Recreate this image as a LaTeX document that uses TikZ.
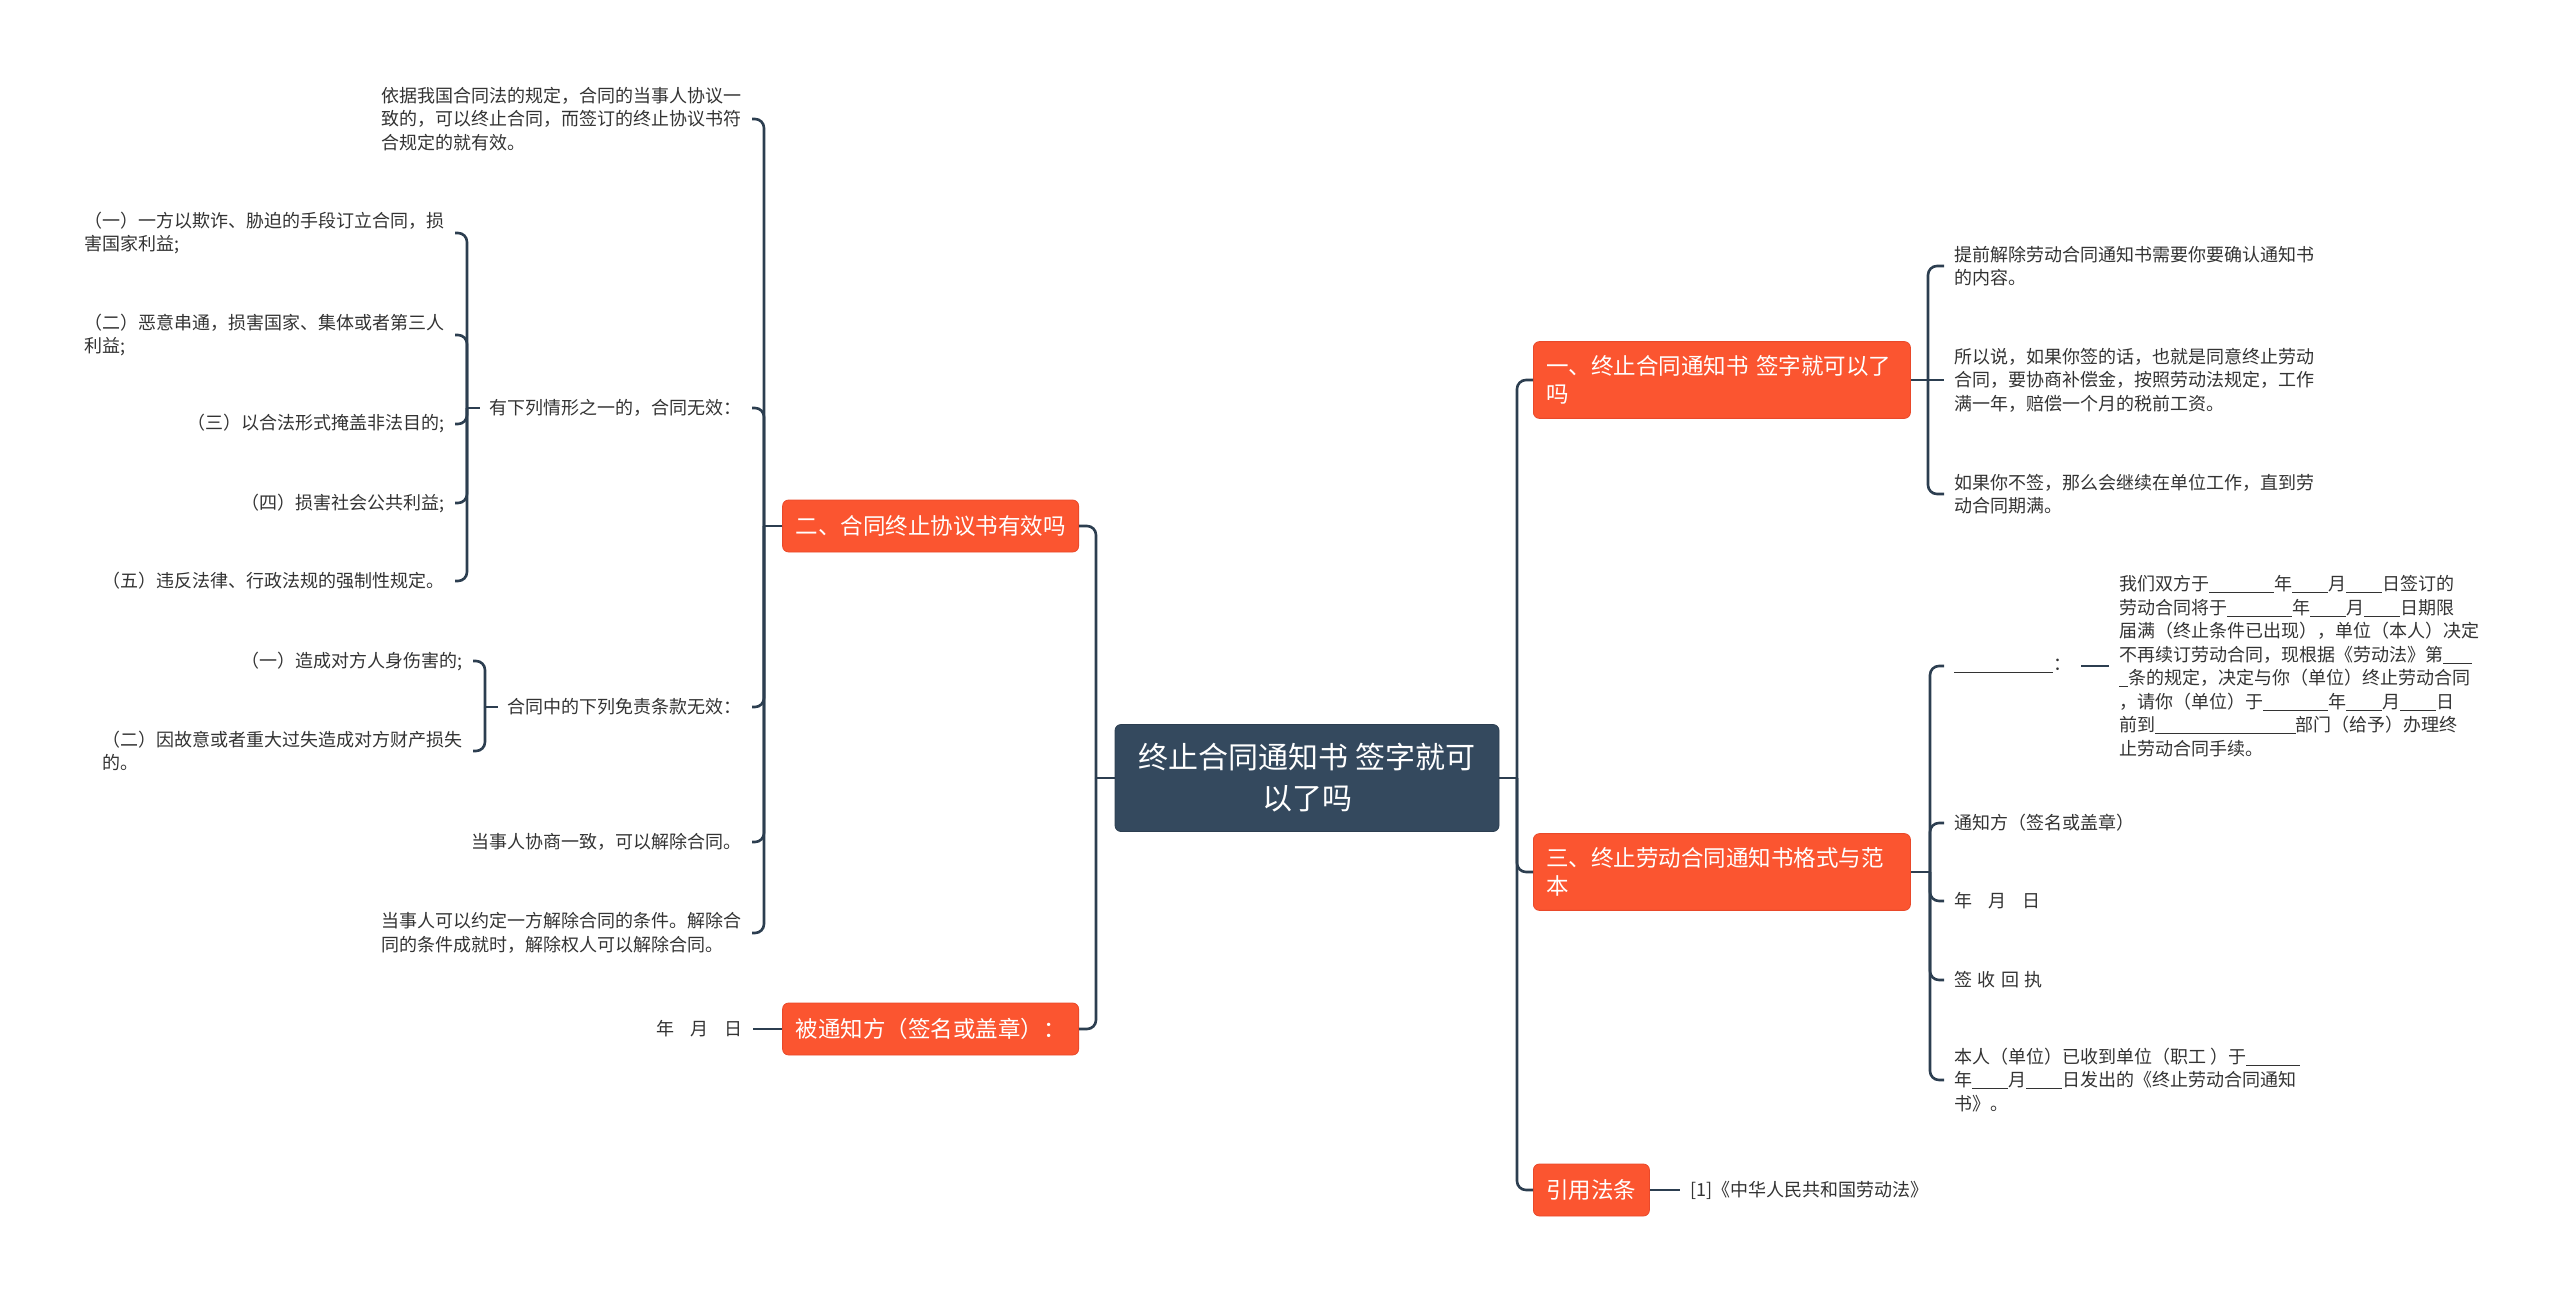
\documentclass[tikz,border=0pt]{standalone}
\usepackage{fontspec}
\newfontfamily\cjk{Noto Sans CJK SC}
\definecolor{cRoot}{HTML}{34495E}
\definecolor{cRootB}{HTML}{2C3E50}
\definecolor{cBr}{HTML}{FB5530}
\definecolor{cBrB}{HTML}{E9492A}
\definecolor{cLn}{HTML}{2C3E50}
\definecolor{cTx}{HTML}{333333}
\newcommand{\fillin}[1]{\rule[-2.5pt]{#1em}{1pt}}

\begin{document}
\begin{tikzpicture}[
    x=1pt, y=-1pt,
    root/.style={fill=cRoot, draw=cRootB, line width=0.8pt, rounded corners=6pt, text=white,
                 font=\cjk\fontsize{30}{41}\selectfont, align=center,
                 minimum width=384pt, inner ysep=19pt},
    br/.style={fill=cBr, draw=cBrB, line width=0.8pt, rounded corners=6pt, text=white,
               font=\cjk\fontsize{22.5}{28}\selectfont, inner xsep=13pt, inner ysep=14pt,
               minimum height=52pt},
    brw/.style={br, text width=351pt, align=left},
    leaf/.style={text=cTx, font=\cjk\fontsize{18}{23.5}\selectfont, inner xsep=10pt,
                 inner ysep=2pt, align=left},
    ln/.style={draw=cLn, line width=2.6pt},
    lnr/.style={ln, rounded corners=9pt},
]
\useasboundingbox (0,0) rectangle (2560,1293);

% === ROOT ===
\node[root] (root) at (1307,778) {终止合同通知书 签字就可\\以了吗};

% === LEFT: branches ===
\node[br, anchor=east] (l2) at (1079,526) {二、合同终止协议书有效吗};
\node[br, anchor=east] (l5) at (1079,1029) {被通知方（签名或盖章）：};

\coordinate (jl) at (1096,778);
\draw[ln] (root.west) -- (jl);
\draw[lnr] (jl) |- (l2.east);
\draw[lnr] (jl) |- (l5.east);

% children of l2
\node[leaf, anchor=east] (la) at (752,119) {依据我国合同法的规定，合同的当事人协议一\\致的，可以终止合同，而签订的终止协议书符\\合规定的就有效。};
\node[leaf, anchor=east] (lb) at (752,408) {有下列情形之一的，合同无效：};
\node[leaf, anchor=east] (lc) at (752,707) {合同中的下列免责条款无效：};
\node[leaf, anchor=east] (ld) at (752,842) {当事人协商一致，可以解除合同。};
\node[leaf, anchor=east] (le) at (752,933) {当事人可以约定一方解除合同的条件。解除合\\同的条件成就时，解除权人可以解除合同。};

\coordinate (j2) at (764,526);
\draw[ln] (l2.west) -- (j2);
\foreach \n in {la,lb,lc,ld,le}
    \draw[lnr] (j2) |- (\n.east);

% children of lb
\node[leaf, anchor=east] (lb1) at (455,233) {（一）一方以欺诈、胁迫的手段订立合同，损\\害国家利益;};
\node[leaf, anchor=east] (lb2) at (455,335) {（二）恶意串通，损害国家、集体或者第三人\\利益;};
\node[leaf, anchor=east] (lb3) at (455,424) {（三）以合法形式掩盖非法目的;};
\node[leaf, anchor=east] (lb4) at (455,503) {（四）损害社会公共利益;};
\node[leaf, anchor=east] (lb5) at (455,581) {（五）违反法律、行政法规的强制性规定。};

\coordinate (jb) at (467,408);
\draw[ln] (lb.west) -- (jb);
\foreach \n in {lb1,lb2,lb3,lb4,lb5}
    \draw[lnr] (jb) |- (\n.east);

% children of lc
\node[leaf, anchor=east] (lc1) at (473,661) {（一）造成对方人身伤害的;};
\node[leaf, anchor=east] (lc2) at (473,751) {（二）因故意或者重大过失造成对方财产损失\\的。};

\coordinate (jc) at (485,707);
\draw[ln] (lc.west) -- (jc);
\draw[lnr] (jc) |- (lc1.east);
\draw[lnr] (jc) |- (lc2.east);

% child of l5
\node[leaf, anchor=east] (l5a) at (753,1029) {年\hspace{0.9em}月\hspace{0.9em}日};
\draw[ln] (l5a.east) -- (l5.west);

% === RIGHT: branches ===
\node[brw, anchor=west] (b1) at (1533,380) {一、终止合同通知书 签字就可以了\\吗};
\node[brw, anchor=west] (b3) at (1533,872) {三、终止劳动合同通知书格式与范\\本};
\node[br, anchor=west] (b4) at (1533,1190) {引用法条};

\coordinate (jr) at (1517,778);
\draw[ln] (root.east) -- (jr);
\foreach \n in {b1,b3,b4}
    \draw[lnr] (jr) |- (\n.west);

% children of b1
\node[leaf, anchor=west] (r11) at (1944,266) {提前解除劳动合同通知书需要你要确认通知书\\的内容。};
\node[leaf, anchor=west] (r12) at (1944,380) {所以说，如果你签的话，也就是同意终止劳动\\合同，要协商补偿金，按照劳动法规定，工作\\满一年，赔偿一个月的税前工资。};
\node[leaf, anchor=west] (r13) at (1944,494) {如果你不签，那么会继续在单位工作，直到劳\\动合同期满。};

\coordinate (j1) at (1928,380);
\draw[ln] (b1.east) -- (j1);
\draw[lnr] (j1) |- (r11.west);
\draw[ln] (j1) -- (r12.west);
\draw[lnr] (j1) |- (r13.west);

% children of b3
\node[leaf, anchor=west] (r31) at (1944,666) {\fillin{5.5}：};
\node[leaf, anchor=west] (r31a) at (2109,666) {我们双方于\fillin{3.6}年\fillin{2}月\fillin{2}日签订的\\劳动合同将于\fillin{3.6}年\fillin{2}月\fillin{2}日期限\\届满（终止条件已出现），单位（本人）决定\\不再续订劳动合同，现根据《劳动法》第\fillin{1.6}\\\fillin{0.5}条的规定，决定与你（单位）终止劳动合同\\，请你（单位）于\fillin{3.6}年\fillin{2}月\fillin{2}日\\前到\fillin{7.8}部门（给予）办理终\\止劳动合同手续。};
\node[leaf, anchor=west] (r32) at (1944,823) {通知方（签名或盖章）};
\node[leaf, anchor=west] (r33) at (1944,901) {年\hspace{0.9em}月\hspace{0.9em}日};
\node[leaf, anchor=west] (r34) at (1944,980) {签\hspace{0.3em}收\hspace{0.3em}回\hspace{0.3em}执};
\node[leaf, anchor=west] (r35) at (1944,1080) {本人（单位）已收到单位（职工 ）于\fillin{3}\\年\fillin{2}月\fillin{2}日发出的《终止劳动合同通知\\书》。};

\coordinate (j3) at (1930,872);
\draw[ln] (b3.east) -- (j3);
\foreach \n in {r31,r32,r33,r34,r35}
    \draw[lnr] (j3) |- (\n.west);
\draw[ln] (r31.east) -- (r31a.west |- r31.east);

% child of b4
\node[leaf, anchor=west] (r41) at (1680,1190) {[1]《中华人民共和国劳动法》};
\draw[ln] (b4.east) -- (r41.west);

\end{tikzpicture}
\end{document}
